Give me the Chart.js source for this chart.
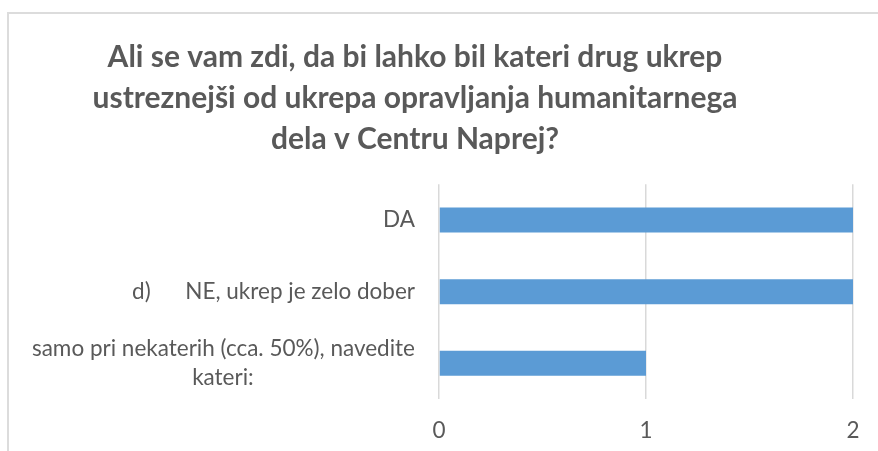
<!DOCTYPE html>
<html>
<head>
<meta charset="utf-8">
<script src="https://cdn.jsdelivr.net/npm/chart.js@4"></script>
<style>
    html, body { margin: 0; padding: 0; background: #ffffff; }
    body { width: 878px; height: 451px; position: relative; overflow: hidden; }
    #frame {
        position: absolute; left: 7px; top: 12px; width: 900px; height: 500px;
        border: 2px solid #dcdcdc; box-sizing: border-box;
    }
    #chart { position: absolute; left: 0; top: 0; }
</style>
</head>
<body>
<div id="frame"></div>
<canvas id="chart" width="878" height="451"></canvas>
<script>
// Chart data
const titleLines = [
    'Ali se vam zdi, da bi lahko bil kateri drug ukrep',
    'ustreznejši od ukrepa opravljanja humanitarnega',
    'dela v Centru Naprej?'
];
const categories = [
    'DA',
    'd)      NE, ukrep je zelo dober',
    ['samo pri nekaterih (cca. 50%), navedite', 'kateri:' + ' '.repeat(28)]
];
const answerCounts = [2, 2, 1];
const axisMin = 0;
const axisMax = 2;
const axisStep = 1;

const textColor = '#595959';
const barColor = '#5b9bd5';
const gridColor = '#d9d9d9';
const fontFamily = 'Lato, "Open Sans", sans-serif';

// Shift the title block so it is centred like in the original
const titleShift = {
    id: 'titleShift',
    afterLayout(chart) {
        if (chart.titleBlock) {
            chart.titleBlock.left = 0;
            chart.titleBlock.right = 830;
        }
    }
};

const ctx = document.getElementById('chart').getContext('2d');
const chart = new Chart(ctx, {
    type: 'bar',
    data: {
        labels: categories,
        datasets: [{
            data: answerCounts,
            backgroundColor: barColor,
            borderWidth: 0,
            categoryPercentage: 1,
            barPercentage: 0.35
        }]
    },
    options: {
        indexAxis: 'y',
        responsive: false,
        animation: false,
        layout: {
            padding: { top: 0, right: 25, bottom: 0, left: 0 }
        },
        plugins: {
            legend: { display: false },
            tooltip: { enabled: false },
            title: {
                display: true,
                text: titleLines,
                color: textColor,
                font: { family: fontFamily, size: 30, weight: 'bold', lineHeight: 1.37 },
                padding: { top: 37, bottom: 24 }
            }
        },
        scales: {
            x: {
                min: axisMin,
                max: axisMax,
                border: { display: false },
                grid: { color: gridColor, lineWidth: 1.5, drawTicks: false },
                ticks: {
                    stepSize: axisStep,
                    padding: 18,
                    color: textColor,
                    font: { family: fontFamily, size: 22.5 }
                },
                afterFit(scale) { scale.height = 52; }
            },
            y: {
                border: { display: false },
                grid: { display: false, drawTicks: false },
                ticks: {
                    padding: 24,
                    color: textColor,
                    font: { family: fontFamily, size: 22.5, lineHeight: 1.33 }
                },
                afterFit(scale) { scale.width = 439; }
            }
        }
    },
    plugins: [titleShift]
});
</script>
</body>
</html>
